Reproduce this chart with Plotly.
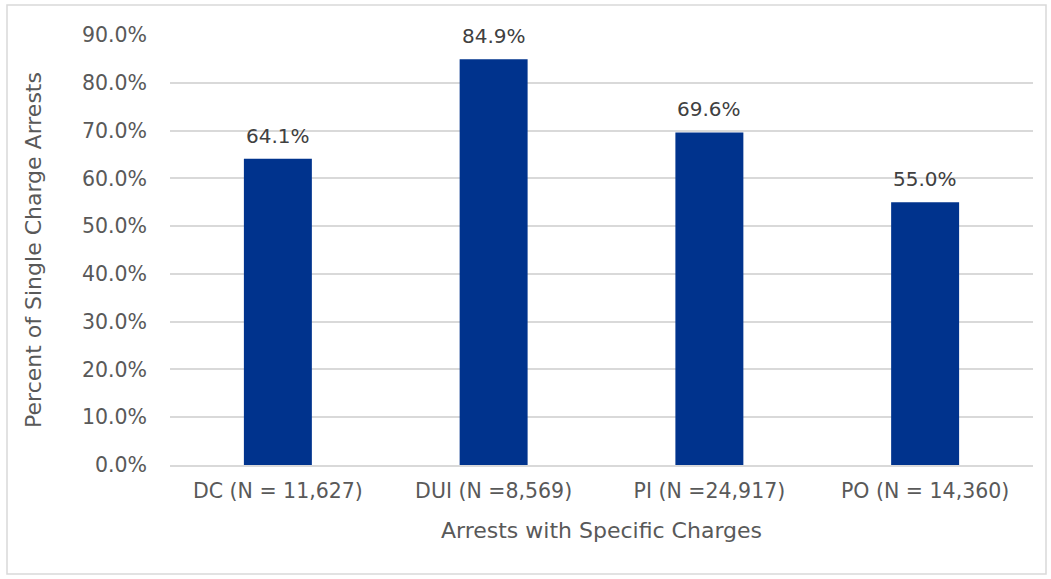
import plotly.graph_objects as go

categories = ["DC (N = 11,627)", "DUI (N =8,569)", "PI (N =24,917)", "PO (N = 14,360)"]
values = [64.1, 84.9, 69.6, 55.0]
tick_vals = [0, 10, 20, 30, 40, 50, 60, 70, 80, 90]
tick_text = ["0.0%", "10.0%", "20.0%", "30.0%", "40.0%", "50.0%", "60.0%", "70.0%", "80.0%", "90.0%"]

W, H = 1051, 579
L, R, T, B = 170, 18, 35, 114
FONT = "'DejaVu Sans', sans-serif"

fig = go.Figure(go.Bar(
    x=categories, y=values,
    marker=dict(color="#00338D", line=dict(width=0)),
    cliponaxis=False,
))

for c, v in zip(categories, values):
    fig.add_annotation(
        x=c, y=v, text=f"{v:.1f}%", showarrow=False,
        yanchor="bottom", yshift=9,
        font=dict(size=20, color="#404040", family=FONT),
    )

pw = W - L - R
ph = H - T - B
fig.update_layout(
    width=W, height=H,
    margin=dict(l=L, r=R, t=T, b=B),
    plot_bgcolor="white", paper_bgcolor="white",
    bargap=0.685,
    showlegend=False,
    font=dict(family=FONT, color="#595959"),
    xaxis=dict(
        title=dict(text="Arrests with Specific Charges", font=dict(size=22, color="#595959"), standoff=20),
        tickfont=dict(size=20.5, color="#595959"),
        showline=True, linecolor="#d9d9d9", linewidth=1.5,
        ticks="", showgrid=False,
        ticklabelstandoff=7,
    ),
    yaxis=dict(
        title=dict(text="Percent of Single Charge Arrests", font=dict(size=22, color="#595959"), standoff=34),
        range=[0, 90],
        tickvals=tick_vals, ticktext=tick_text,
        tickfont=dict(size=20.5, color="#595959"),
        showgrid=True, gridcolor="#d9d9d9", gridwidth=1.5,
        zeroline=False, showline=False, ticks="",
        ticklabelstandoff=22,
    ),
    shapes=[dict(
        type="rect", xref="paper", yref="paper",
        x0=(7 - L) / pw, x1=(1046 - L) / pw,
        y0=(H - B - 574) / ph, y1=(H - B - 5) / ph,
        line=dict(color="#d9d9d9", width=1.5), fillcolor="rgba(0,0,0,0)",
        layer="below",
    )],
)

fig.write_html("out.html")
